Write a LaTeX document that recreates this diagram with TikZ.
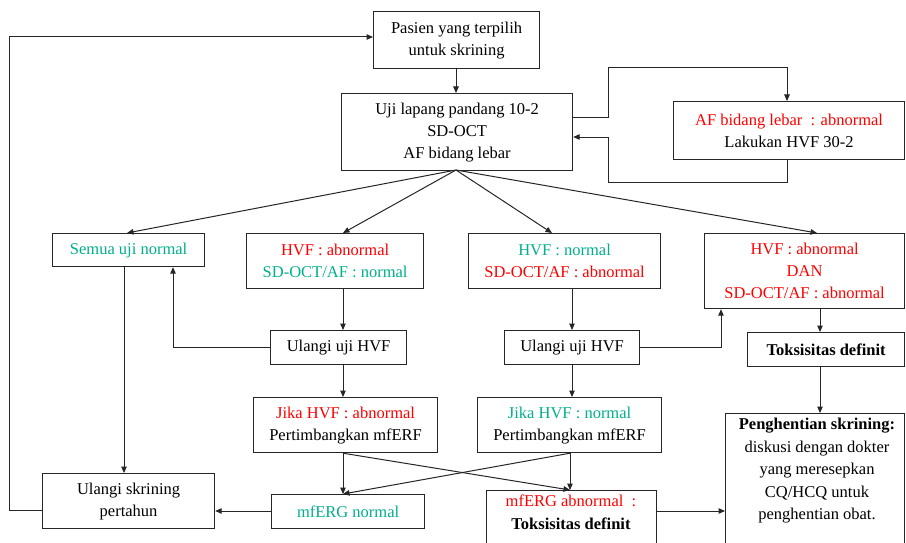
\documentclass[tikz,border=0pt]{standalone}
\usepackage{fontspec}
\setmainfont{Liberation Serif}
\usetikzlibrary{arrows.meta}
\definecolor{cred}{RGB}{255,0,0}
\definecolor{cteal}{RGB}{0,176,140}
\tikzset{
  box/.style={draw=black!85, line width=1.2pt, inner sep=0pt, align=center, anchor=north west,
     font=\fontsize{16.5}{22}\selectfont},
  txt/.style={inner sep=0pt, align=center, font=\fontsize{16.5}{22.5}\selectfont},
  conn/.style={draw=black!85, line width=1pt},
  arr/.style={conn, -{Triangle[length=6.5pt,width=5.5pt]}}
}
\begin{document}
\begin{tikzpicture}[x=1pt,y=-1pt]
\useasboundingbox (0,0) rectangle (906,543);
\clip (0,0) rectangle (906,543);
\fill[white] (0,0) rectangle (906,543);
% boxes
\node[box, minimum width=166pt, minimum height=57pt] (b1) at (373,11) {Pasien yang terpilih\\untuk skrining};
\node[box, minimum width=231pt, minimum height=77pt] (b2) at (341,93) {Uji lapang pandang 10-2\\SD-OCT\\AF bidang lebar};
\node[box, minimum width=231pt, minimum height=58pt] (b3) at (673,101) {\textcolor{cred}{AF bidang lebar\ \ : abnormal}\\Lakukan HVF 30-2};
\node[box, minimum width=152pt, minimum height=33pt] (semua) at (52,233) {\textcolor{cteal}{Semua uji normal}};
\node[box, minimum width=177pt, minimum height=55pt] (hvf1) at (246,233) {\textcolor{cred}{HVF : abnormal}\\\textcolor{cteal}{SD-OCT/AF : normal}};
\node[box, minimum width=192pt, minimum height=55pt] (hvf2) at (468,233) {\textcolor{cteal}{HVF : normal}\\\textcolor{cred}{SD-OCT/AF : abnormal}};
\node[box, minimum width=200pt, minimum height=75pt] (hvf3) at (704,233) {\textcolor{cred}{HVF : abnormal}\\\textcolor{cred}{DAN}\\\textcolor{cred}{SD-OCT/AF : abnormal}};
\node[box, minimum width=136pt, minimum height=34pt] (ul1) at (270,330) {Ulangi uji HVF};
\node[box, minimum width=135pt, minimum height=34pt] (ul2) at (504,330) {Ulangi uji HVF};
\node[box, minimum width=157pt, minimum height=34pt] (tok) at (747,332) {\textbf{Toksisitas definit}};
\node[box, minimum width=184pt, minimum height=55pt] (jika1) at (253,397) {\textcolor{cred}{Jika HVF : abnormal}\\Pertimbangkan mfERF};
\node[box, minimum width=184pt, minimum height=55pt] (jika2) at (477,397) {\textcolor{cteal}{Jika HVF : normal}\\Pertimbangkan mfERF};
\node[box, minimum width=179pt, minimum height=160pt] (peng) at (725,413) {};
\node[txt, anchor=north] (pengt) at (817,418) {\textbf{Penghentian skrining:}\\diskusi dengan dokter\\yang meresepkan\\CQ/HCQ untuk\\penghentian obat.};
\node[box, minimum width=172pt, minimum height=55pt] (ulsk) at (42,473) {Ulangi skrining\\pertahun};
\node[box, minimum width=153pt, minimum height=34pt] (mfn) at (271,494) {\textcolor{cteal}{mfERG normal}};
\node[box, minimum width=170pt, minimum height=100pt] (mfa) at (486,490) {};
\node[txt, anchor=north] (mfat) at (571,495) {\textcolor{cred}{mfERG abnormal\ \ :}\\\textbf{Toksisitas definit}};
% connectors
\draw[arr] (456,0 |- b1.south) -- (456,0 |- b2.north);
\draw[arr] (b2.east |- 0,118) -- (608,118) -- (608,68) -- (787,68) -- (787,0 |- b3.north);
\draw[arr] (787,0 |- b3.south) -- (787,182) -- (608,182) -- (608,137) -- (b2.east |- 0,137);
\coordinate (fan) at (456,170);
\draw[arr] (fan) -- (127,0 |- semua.north);
\draw[arr] (fan) -- (343,0 |- hvf1.north);
\draw[arr] (fan) -- (552,0 |- hvf2.north);
\draw[arr] (fan) -- (817,0 |- hvf3.north);
\draw[arr] (343,0 |- hvf1.south) -- (343,0 |- ul1.north);
\draw[arr] (572,0 |- hvf2.south) -- (572,0 |- ul2.north);
\draw[arr] (820,0 |- hvf3.south) -- (820,0 |- tok.north);
\draw[arr] (ul1.west |- 0,347) -- (173,347) -- (173,0 |- semua.south);
\draw[arr] (ul2.east |- 0,347) -- (721,347) -- (721,0 |- hvf3.south);
\draw[arr] (343,0 |- ul1.south) -- (343,0 |- jika1.north);
\draw[arr] (572,0 |- ul2.south) -- (572,0 |- jika2.north);
\draw[arr] (820,0 |- tok.south) -- (820,0 |- peng.north);
\draw[arr] (343,0 |- jika1.south) -- (343,0 |- mfn.north);
\draw[arr] (343,0 |- jika1.south) -- (570,0 |- mfa.north);
\draw[arr] (570,0 |- jika2.south) -- (570,0 |- mfa.north);
\draw[arr] (570,0 |- jika2.south) -- (343,0 |- mfn.north);
\draw[arr] (124,0 |- semua.south) -- (124,0 |- ulsk.north);
\draw[arr] (mfn.west |- 0,511) -- (ulsk.east |- 0,511);
\draw[arr] (mfa.east |- 0,511) -- (peng.west |- 0,511);
\draw[arr] (ulsk.west |- 0,510) -- (9,510) -- (9,37) -- (b1.west |- 0,37);
\end{tikzpicture}
\end{document}
